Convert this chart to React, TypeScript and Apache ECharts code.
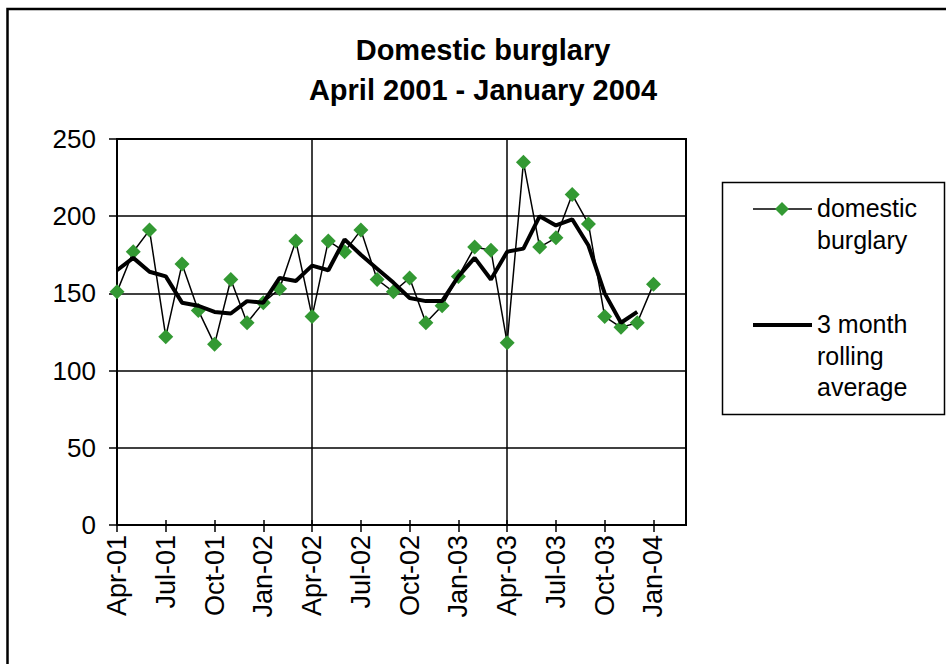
import React, { useEffect, useRef } from "react";
import * as echarts from "echarts";

const months = [
  "Apr-01","May-01","Jun-01","Jul-01","Aug-01","Sep-01","Oct-01","Nov-01","Dec-01","Jan-02","Feb-02","Mar-02",
  "Apr-02","May-02","Jun-02","Jul-02","Aug-02","Sep-02","Oct-02","Nov-02","Dec-02","Jan-03","Feb-03","Mar-03",
  "Apr-03","May-03","Jun-03","Jul-03","Aug-03","Sep-03","Oct-03","Nov-03","Dec-03","Jan-04","Feb-04","Mar-04",
];

const domesticBurglary: (number | null)[] = [
  151, 177, 191, 122, 169, 139, 117, 159, 131, 144, 153, 184,
  135, 184, 177, 191, 159, 151, 160, 131, 142, 161, 180, 178,
  118, 235, 180, 186, 214, 195, 135, 128, 131, 156, null, null,
];

const rollingAverage: (number | null)[] = [
  165, 173, 164, 161, 144, 142, 138, 137, 145, 144, 160, 158,
  168, 165, 185, 175, 166, 157, 147, 145, 145, 161, 173, 159,
  177, 179, 200, 194, 198, 181, 150, 131, 138, null, null, null,
];

const yTicks = { min: 0, max: 250, interval: 50 };
const titleLines = ["Domestic burglary", "April 2001 - January 2004"];
const legendNames = ["domestic burglary", "3 month rolling average"];

const FONT = "'Liberation Sans', Arial, sans-serif";
const GREEN = "#339933";

export default function App() {
  const ref = useRef<HTMLDivElement>(null);

  useEffect(() => {
    if (!ref.current) return;
    const chart = echarts.init(ref.current, undefined, { renderer: "svg" });

    const option: any = {
      animation: false,
      backgroundColor: "#ffffff",
      title: {
        text: titleLines.join("\n"),
        left: 478,
        top: 25,
        textAlign: "center",
        textStyle: {
          fontFamily: FONT,
          fontSize: 29,
          fontWeight: "bold",
          color: "#000",
          lineHeight: 40,
        },
      },
      grid: {
        left: 117,
        top: 139,
        right: 260,
        bottom: 139,
        show: true,
        borderColor: "#000",
        borderWidth: 2,
        backgroundColor: "#fff",
      },
      xAxis: [
        {
          type: "category",
          data: months,
          boundaryGap: false,
          axisLine: { show: true, lineStyle: { color: "#000", width: 2 } },
          axisTick: { show: true, interval: 2, length: 7, lineStyle: { color: "#000", width: 1.5 } },
          axisLabel: {
            interval: 2,
            rotate: 90,
            margin: 10,
            fontFamily: FONT,
            fontSize: 27,
            color: "#000",
          },
          splitLine: { show: true, interval: 11, lineStyle: { color: "#000", width: 1.5 } },
        },
        {
          type: "category",
          data: months,
          boundaryGap: false,
          position: "bottom",
          axisLine: { show: false },
          axisTick: { show: true, inside: true, interval: 2, length: 5, lineStyle: { color: "#000", width: 1.5 } },
          axisLabel: { show: false },
          splitLine: { show: false },
        },
      ],
      yAxis: {
        type: "value",
        min: yTicks.min,
        max: yTicks.max,
        interval: yTicks.interval,
        axisLine: { show: true, lineStyle: { color: "#000", width: 2 } },
        axisTick: { show: true, length: 8, lineStyle: { color: "#000", width: 1.5 } },
        axisLabel: {
          margin: 21,
          fontFamily: FONT,
          fontSize: 26,
          color: "#000",
        },
        splitLine: { show: true, lineStyle: { color: "#000", width: 1.5 } },
      },
      series: [
        {
          name: legendNames[0],
          type: "line",
          data: domesticBurglary,
          xAxisIndex: 0,
          symbol: "diamond",
          symbolSize: 15,
          showAllSymbol: true,
          lineStyle: { color: "#000", width: 1.5 },
          itemStyle: { color: GREEN, borderWidth: 0 },
          z: 3,
        },
        {
          name: legendNames[1],
          type: "line",
          data: rollingAverage,
          xAxisIndex: 0,
          symbol: "none",
          lineStyle: { color: "#000", width: 4 },
          z: 4,
        },
      ],
      graphic: [
        {
          type: "rect",
          shape: { x: 7.5, y: 9, width: 1200, height: 1200 },
          style: { fill: "none", stroke: "#000", lineWidth: 2.5 },
          silent: true,
          z: 100,
        },
        {
          type: "rect",
          shape: { x: 722.5, y: 182.5, width: 222, height: 232 },
          style: { fill: "#fff", stroke: "#000", lineWidth: 1.5 },
          z: 50,
        },
        {
          type: "line",
          shape: { x1: 753, y1: 209, x2: 812, y2: 209 },
          style: { stroke: "#000", lineWidth: 1.5 },
          z: 51,
        },
        {
          type: "polygon",
          shape: { points: [[782, 202], [789, 209], [782, 216], [775, 209]] },
          style: { fill: GREEN },
          z: 52,
        },
        {
          type: "text",
          x: 817,
          y: 208,
          style: { text: "domestic", font: `25px ${FONT}`, fill: "#000", verticalAlign: "middle" },
          z: 51,
        },
        {
          type: "text",
          x: 817,
          y: 240,
          style: { text: "burglary", font: `25px ${FONT}`, fill: "#000", verticalAlign: "middle" },
          z: 51,
        },
        {
          type: "line",
          shape: { x1: 753, y1: 325, x2: 812, y2: 325 },
          style: { stroke: "#000", lineWidth: 4 },
          z: 51,
        },
        {
          type: "text",
          x: 817,
          y: 324,
          style: { text: "3 month", font: `25px ${FONT}`, fill: "#000", verticalAlign: "middle" },
          z: 51,
        },
        {
          type: "text",
          x: 817,
          y: 356,
          style: { text: "rolling", font: `25px ${FONT}`, fill: "#000", verticalAlign: "middle" },
          z: 51,
        },
        {
          type: "text",
          x: 817,
          y: 387,
          style: { text: "average", font: `25px ${FONT}`, fill: "#000", verticalAlign: "middle" },
          z: 51,
        },
      ],
    };

    chart.setOption(option);
    return () => chart.dispose();
  }, []);

  return (
    <div
      ref={ref}
      style={{ position: "fixed", left: 0, top: 0, width: 946, height: 664, background: "#fff" }}
    />
  );
}
